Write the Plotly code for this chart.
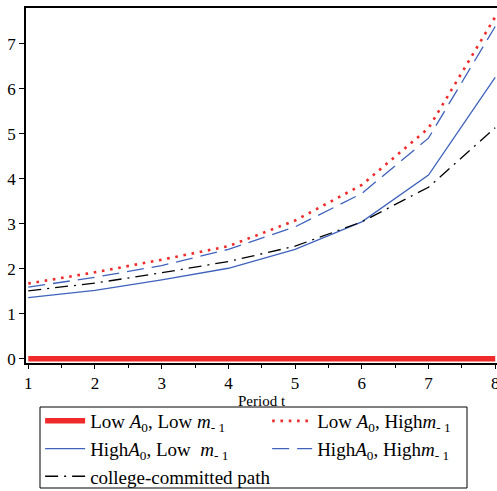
import plotly.graph_objects as go

periods = [1, 2, 3, 4, 5, 6, 7, 8]
low_a_low_m = [0, 0, 0, 0, 0, 0, 0, 0]
low_a_high_m = [1.67, 1.92, 2.20, 2.50, 3.07, 3.86, 5.12, 7.59]
high_a_low_m = [1.36, 1.52, 1.75, 2.01, 2.43, 3.04, 4.08, 6.25]
high_a_high_m = [1.59, 1.81, 2.07, 2.43, 2.93, 3.67, 4.90, 7.38]
college_path = [1.51, 1.68, 1.91, 2.16, 2.50, 3.04, 3.81, 5.13]
y_ticks = [0, 1, 2, 3, 4, 5, 6, 7]
x_title = "Period t"

names = [
    "Low <i>A</i><sub>0</sub>, Low <i>m</i><sub>- 1</sub>",
    "Low <i>A</i><sub>0</sub>, High<i>m</i><sub>- 1</sub>",
    "High<i>A</i><sub>0</sub>, Low  <i>m</i><sub>- 1</sub>",
    "High<i>A</i><sub>0</sub>, High<i>m</i><sub>- 1</sub>",
    "college-committed path",
]

RED = "#f02a2a"
BLUE = "#3f62bd"

fig = go.Figure()
fig.add_trace(go.Scatter(x=periods, y=low_a_low_m, mode="lines", name=names[0],
                         legend="legend", line=dict(color=RED, width=5.5)))
fig.add_trace(go.Scatter(x=periods, y=low_a_high_m, mode="lines", name=names[1],
                         legend="legend2",
                         line=dict(color=RED, width=2.6, dash="2.6px,5.7px")))
fig.add_trace(go.Scatter(x=periods, y=high_a_low_m, mode="lines", name=names[2],
                         legend="legend", line=dict(color=BLUE, width=1.3)))
fig.add_trace(go.Scatter(x=periods, y=high_a_high_m, mode="lines", name=names[3],
                         legend="legend2",
                         line=dict(color=BLUE, width=1.3, dash="17px,8px")))
fig.add_trace(go.Scatter(x=periods, y=college_path, mode="lines", name=names[4],
                         legend="legend",
                         line=dict(color="black", width=1.3, dash="13px,6px,2px,6px")))

font_family = "Liberation Serif"
legend_font = dict(family=font_family, size=19, color="black")
legend_top = 1 - 402 / 491

fig.update_layout(
    width=497, height=491,
    margin=dict(l=26, r=0, t=8, b=128, autoexpand=False),
    paper_bgcolor="white", plot_bgcolor="white",
    font=dict(family=font_family, size=15, color="black"),
    showlegend=True,
    legend=dict(
        orientation="v", x=0.03, xanchor="left",
        yref="container", y=legend_top, yanchor="top",
        borderwidth=0, font=legend_font, tracegroupgap=0, itemwidth=40,
        bgcolor="rgba(0,0,0,0)",
    ),
    legend2=dict(
        orientation="v", x=0.512, xanchor="left",
        yref="container", y=legend_top, yanchor="top",
        borderwidth=0, font=legend_font, tracegroupgap=0, itemwidth=40,
        bgcolor="rgba(0,0,0,0)",
    ),
    shapes=[dict(
        type="rect", xref="paper", yref="paper",
        x0=(40 - 26) / 471, x1=(467 - 26) / 471,
        y0=(363 - 407) / 355, y1=(363 - 488) / 355,
        line=dict(color="black", width=1), fillcolor="rgba(0,0,0,0)",
        layer="above",
    )],
    annotations=[dict(
        text=x_title, xref="paper", yref="paper",
        x=0.5, y=(363 - 401) / 355, xanchor="center", yanchor="middle",
        showarrow=False, font=dict(family=font_family, size=15, color="black"),
    )],
    xaxis=dict(
        range=[0.966, 8.027],
        tickmode="array", tickvals=periods,
        ticks="outside", ticklen=4, tickwidth=1, tickcolor="black",
        minor=dict(dtick=0.5, tick0=0.5, ticks="outside", ticklen=3, tickcolor="black"),
        showgrid=False, zeroline=False,
        showline=True, linecolor="black", linewidth=1.5, mirror=True,
        tickfont=dict(family=font_family, size=17),
        ticklabeloverflow="allow",
        automargin=False,
    ),
    yaxis=dict(
        range=[-0.094, 7.79],
        tickmode="array", tickvals=y_ticks,
        ticks="outside", ticklen=5, tickwidth=1, tickcolor="black",
        showgrid=False, zeroline=False,
        showline=True, linecolor="black", linewidth=1.5,
        tickfont=dict(family=font_family, size=17),
        automargin=False,
    ),
)

fig.write_html("out.html", config={"displayModeBar": False},
               post_script="document.body.style.margin='0px';")
